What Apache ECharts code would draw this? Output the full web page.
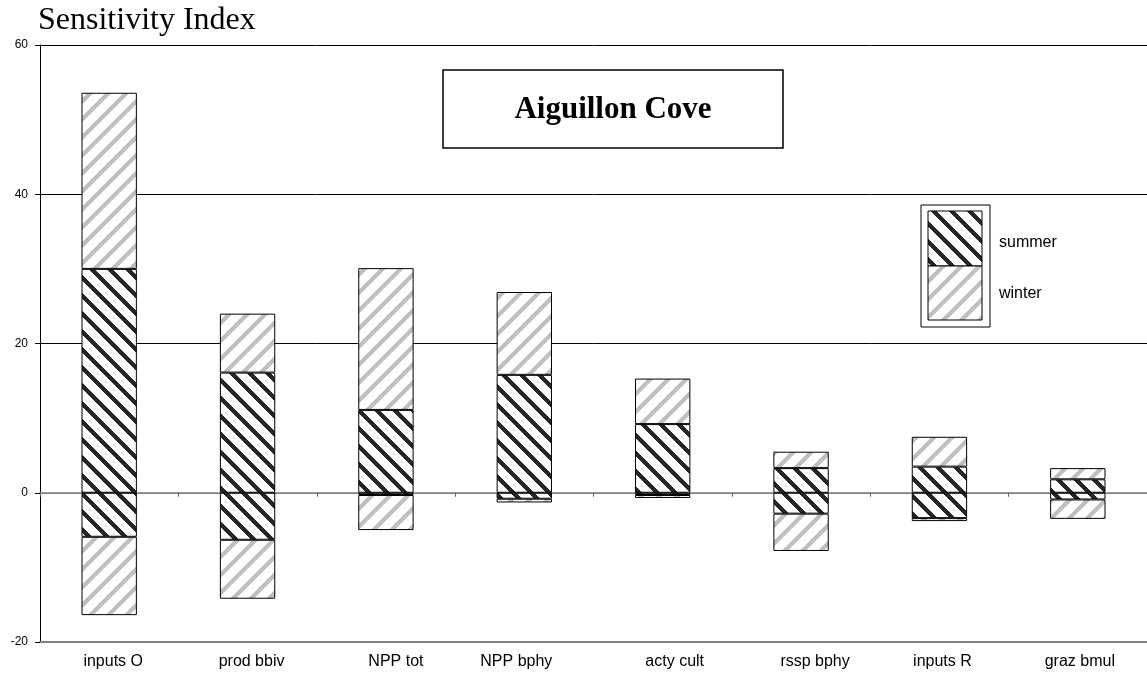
<!DOCTYPE html>
<html><head><meta charset="utf-8">
<script src="https://cdn.jsdelivr.net/npm/echarts@6/dist/echarts.min.js"></script>
<style>html,body{margin:0;padding:0;background:#fff}#c{width:1147px;height:688px}</style>
</head><body><div id="c"></div>
<script>
// ---- data ----
const categories = ['inputs O', 'prod bbiv', 'NPP tot', 'NPP bphy', 'acty cult', 'rssp bphy', 'inputs R', 'graz bmul'];
const summerPos = [30.0, 16.1, 11.1, 15.8, 9.2, 3.3, 3.5, 1.8];
const summerNeg = [-5.9, -6.3, -0.3, -0.8, -0.3, -2.8, -3.4, -0.9];
const winterPos = [23.6, 7.9, 19.0, 11.1, 6.1, 2.2, 4.0, 1.5];
const winterNeg = [-10.5, -7.9, -4.7, -0.5, -0.4, -5.0, -0.4, -2.6];
const yTicks = [-20, 0, 20, 40, 60];

// ---- label nudges (style only) ----
const labelShift = [4, 4, 10, -8, 12, 14, 3, 2];

function makePattern(dir, rgb) {
  const T = 18, W = 6, c = document.createElement('canvas');
  c.width = T; c.height = T;
  const g = c.getContext('2d');
  const img = g.createImageData(T, T);
  for (let y = 0; y < T; y++) {
    for (let x = 0; x < T; x++) {
      const k = dir === 'back' ? ((x - y) % T + T) % T : (x + y) % T;
      const on = k < W;
      const p = (y * T + x) * 4;
      img.data[p] = on ? rgb[0] : 255;
      img.data[p + 1] = on ? rgb[1] : 255;
      img.data[p + 2] = on ? rgb[2] : 255;
      img.data[p + 3] = 255;
    }
  }
  g.putImageData(img, 0, 0);
  return c;
}
const summerFill = { image: makePattern('back', [38, 38, 38]), repeat: 'repeat' };
const winterFill = { image: makePattern('fwd', [192, 192, 192]), repeat: 'repeat' };

const rich = {};
labelShift.forEach((s, i) => {
  rich['c' + i] = {
    fontSize: 16, fontFamily: 'Liberation Sans, Arial', color: '#000',
    padding: s >= 0 ? [0, 0, 0, 2 * s] : [0, -2 * s, 0, 0]
  };
});

function barSeries(name, data, fill) {
  return {
    name, type: 'bar', stack: 'all', data, xAxisIndex: 0,
    barWidth: '40%',
    itemStyle: { color: fill, borderColor: '#000', borderWidth: 1 },
    emphasis: { disabled: true }
  };
}

const chart = echarts.init(document.getElementById('c'), null, { renderer: 'canvas' });
chart.setOption({
  animation: false,
  backgroundColor: '#fff',
  title: {
    text: 'Sensitivity Index', left: 33, top: 0,
    textStyle: { fontFamily: 'Liberation Serif, Times New Roman', fontSize: 32, fontWeight: 'normal', color: '#000' }
  },
  grid: { left: 40, right: 0, top: 45, bottom: 46, containLabel: false },
  xAxis: [
    {
      type: 'category', data: categories, position: 'bottom',
      axisLine: { onZero: false, lineStyle: { color: '#808080', width: 2 } },
      axisTick: { show: false },
      axisLabel: {
        margin: 12, interval: 0,
        formatter: (v, i) => '{c' + i + '|' + v + '}', rich
      },
      splitLine: { show: false }
    },
    {
      type: 'category', data: categories, position: 'bottom',
      axisLine: { onZero: true, lineStyle: { color: '#808080', width: 1.5 } },
      axisTick: { show: true, length: 4, lineStyle: { color: '#606060' } },
      axisLabel: { show: false },
      splitLine: { show: false }
    }
  ],
  yAxis: {
    type: 'value', min: yTicks[0], max: yTicks[yTicks.length - 1], interval: 20,
    axisLine: { show: true, onZero: false, lineStyle: { color: '#000', width: 1 } },
    axisTick: { show: true, length: 5, lineStyle: { color: '#000' } },
    axisLabel: { fontSize: 12, fontFamily: 'Liberation Sans, Arial', color: '#000', margin: 12 },
    splitLine: { show: true, lineStyle: { color: ['#808080', '#808080', '#000', '#000', '#000'], width: 1 } }
  },
  series: [
    barSeries('summer', summerPos, summerFill),
    barSeries('summer', summerNeg, summerFill),
    barSeries('winter', winterPos, winterFill),
    barSeries('winter', winterNeg, winterFill)
  ],
  graphic: [
    { type: 'rect', shape: { x: 443, y: 70, width: 340, height: 78 }, style: { fill: '#fff', stroke: '#000', lineWidth: 1.5 }, z: 10 },
    { type: 'text', x: 613, y: 110, style: { text: 'Aiguillon Cove', align: 'center', verticalAlign: 'middle', textAlign: 'center', textVerticalAlign: 'middle', font: 'bold 31px "Liberation Serif", "Times New Roman"', fill: '#000' }, z: 11 },
    { type: 'rect', shape: { x: 921, y: 205, width: 69, height: 122 }, style: { fill: '#fff', stroke: '#000', lineWidth: 1 }, z: 10 },
    { type: 'rect', shape: { x: 928, y: 211, width: 54, height: 55 }, style: { fill: summerFill, stroke: '#000', lineWidth: 1 }, z: 11 },
    { type: 'rect', shape: { x: 928, y: 266, width: 54, height: 54 }, style: { fill: winterFill, stroke: '#000', lineWidth: 1 }, z: 11 },
    { type: 'text', x: 999, y: 243, style: { text: 'summer', verticalAlign: 'middle', textVerticalAlign: 'middle', font: '16px "Liberation Sans", Arial', fill: '#000' }, z: 11 },
    { type: 'text', x: 999, y: 294, style: { text: 'winter', verticalAlign: 'middle', textVerticalAlign: 'middle', font: '16px "Liberation Sans", Arial', fill: '#000' }, z: 11 }
  ]
});
</script></body></html>
